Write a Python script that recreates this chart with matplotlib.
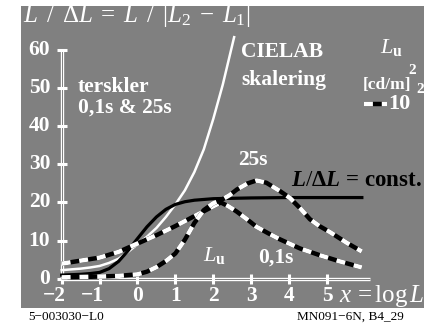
import matplotlib.pyplot as plt

plt.rcParams['mathtext.fontset'] = 'custom'
plt.rcParams['mathtext.rm'] = 'Liberation Serif'
plt.rcParams['mathtext.it'] = 'Liberation Serif:italic'
plt.rcParams['mathtext.bf'] = 'Liberation Serif:bold'
plt.rcParams['mathtext.bfit'] = 'Liberation Serif:bold:italic'
plt.rcParams['font.family'] = 'Liberation Serif'

# ticks
xticks = [-2, -1, 0, 1, 2, 3, 4, 5]
yticks = [0, 10, 20, 30, 40, 50, 60]

# CIELAB scaling (white line)
x_cielab = [-2, -1.75, -1.5, -1.25, -1, -0.75, -0.5, -0.25, 0, 0.25, 0.5,
            0.75, 1, 1.25, 1.5, 1.75, 2, 2.25, 2.55]
y_cielab = [2.2, 2.4, 2.6, 2.9, 3.3, 4.1, 5.2, 7.0, 9.0, 11.0, 13.3,
            16.2, 19.5, 23.2, 28, 34, 42, 51, 63.5]

# L/dL = const. (black line)
x_const = [-2, -1.75, -1.5, -1.25, -1, -0.75, -0.5, -0.25, 0, 0.25, 0.5,
           0.75, 1, 1.25, 1.5, 2, 3, 4, 5.92]
y_const = [0.9, 1.0, 1.1, 1.3, 1.6, 2.6, 4.5, 7.3, 10.5, 13.6, 16.2,
           18.2, 19.5, 20.2, 20.6, 21.0, 21.2, 21.3, 21.3]

# threshold 0,1s (dashed)
x_01s = [-2, -1.5, -1, -0.5, 0, 0.5, 1, 1.5, 2, 2.2, 2.4, 2.62, 2.9, 3.14,
         3.45, 3.76, 4.29, 4.82, 5.34, 5.92]
y_01s = [3.9, 4.7, 5.5, 7.0, 9.2, 11.4, 13.8, 16.4, 19.0, 20.0, 19.0, 17.6,
         15.5, 13.6, 11.9, 10.3, 7.9, 6.1, 4.5, 2.9]

# threshold 25s (dashed)
x_25s = [-2, -1.5, -1, -0.5, 0, 0.25, 0.5, 0.75, 1, 1.25, 1.5, 1.75, 2, 2.2,
         2.44, 2.62, 2.9, 3.14, 3.4, 3.76, 4.02, 4.3, 4.55, 4.8, 5.08, 5.52, 5.92]
y_25s = [0.3, 0.4, 0.5, 0.7, 1.1, 1.8, 3.0, 4.6, 6.6, 10.2, 14.6, 18.0, 19.8, 20.6,
         22.0, 23.4, 25.0, 25.8, 25.2, 23.0, 21.2, 18.4, 15.6, 13.8, 12.2, 9.4, 7.1]

gray = '#808080'
W, H = 424, 331

fig = plt.figure(figsize=(W / 100, H / 100), dpi=100)
fig.patch.set_facecolor('white')
ax = fig.add_axes([21 / W, (H - 308) / H, (W - 21) / W, 302 / H])
ax.set_facecolor(gray)
for s in ax.spines.values():
    s.set_visible(False)
ax.set_xticks([])
ax.set_yticks([])
ax.set_xlim(-3.074, 7.56)
ax.set_ylim(-7.76, 71.7)


def ptxt(xp, yp, s, **kw):
    kw.setdefault('color', 'white')
    fig.text(xp / W, 1 - yp / H, s, **kw)


def dashed(xs, ys, **kw):
    ax.plot(xs, ys, color='black', lw=3.2, solid_capstyle='butt', **kw)
    ax.plot(xs, ys, color='white', lw=3.2, dashes=(2.0, 2.0), dash_capstyle='butt', **kw)


# double-line axes
ax.plot([-2, 6.13], [0, 0], color='white', lw=2.4, solid_capstyle='butt')
ax.plot([-2, 6.13], [0, 0], color=gray, lw=0.7, solid_capstyle='butt')
ax.plot([-2, -2], [0, 60.3], color='white', lw=2.4, solid_capstyle='butt')
ax.plot([-2, -2], [0, 60.3], color=gray, lw=0.7, solid_capstyle='butt')
ax.plot([-2] * len(yticks), yticks, ls='none', marker='_', ms=7.5, mew=2.2, color='white')
ax.plot(xticks, [0] * len(xticks), ls='none', marker='|', ms=7.5, mew=2.2, color='white')

for v in yticks:
    ax.text(-2.3, v, str(v), ha='right', va='center', color='white',
            fontsize=15.5, fontweight='bold')
for v in xticks:
    lab = str(v).replace('-', '\u2212')
    off = -0.2 if v < 0 else 0
    ax.text(v + off, -4.7, lab, ha='center', va='center', color='white',
            fontsize=15.5, fontweight='bold')

# curves
ax.plot(x_cielab, y_cielab, color='white', lw=1.8)
ax.plot(x_const, y_const, color='black', lw=2.3)
dashed(x_01s, y_01s)
dashed(x_25s, y_25s)

# texts
ptxt(23, 16, r'$L\enspace/\enspace\Delta L\;=\;L\enspace/\enspace|L_2\;-\;L_1|$',
     fontsize=18, va='center')
ptxt(78, 87, 'terskler', fontsize=15.5, fontweight='bold', va='center')
ptxt(78, 108, '0,1s & 25s', fontsize=15.5, fontweight='bold', va='center')
ptxt(241, 52, 'CIELAB', fontsize=15.5, fontweight='bold', va='center')
ptxt(241, 80, 'skalering', fontsize=15.5, fontweight='bold', va='center')
ptxt(380, 48, r'$L_\mathbf{u}$', fontsize=16, va='center')
ptxt(363, 85, '[cd/m]', fontsize=12.5, fontweight='bold', va='center')
ptxt(408, 70, '2', fontsize=11, fontweight='bold', va='center')
dashed([0.852, 0.907], [0.675, 0.675], transform=ax.transAxes)
ptxt(388, 104, '10', fontsize=16, fontweight='bold', va='center')
ptxt(416, 90, '2', fontsize=11, fontweight='bold', va='center')
ptxt(238, 160, '25s', fontsize=15.5, fontweight='bold', va='center')
ptxt(291, 181, r'$\mathbfit{L}/\mathbf{\Delta}\mathbfit{L}$ = const.', fontsize=16.5,
     fontweight='bold', color='black', va='center')
ptxt(203, 256, r'$L_\mathbf{u}$', fontsize=16, va='center')
ptxt(258, 258, '0,1s', fontsize=15.5, fontweight='bold', va='center')
ptxt(339, 296, r'$x\,=\log L$', fontsize=18, va='center')

ptxt(28, 317, '5\u2212003030\u2212L0', fontsize=9.5, color='black', va='center')
ptxt(297, 317, 'MN091\u22126N, B4_29', fontsize=9.5, color='black', va='center')

fig.savefig('out.png', dpi=100, facecolor='white')
